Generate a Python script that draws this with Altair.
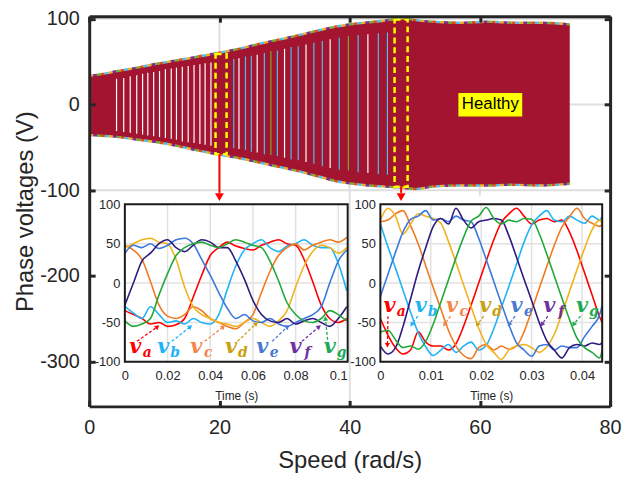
import altair as alt
import pandas as pd

W, H = 526, 394
FONT = "Liberation Sans"
TXT = "#262626"

# ---------------- main plot data (speed in rad/s, volts) ----------------
env_speed = [0, 2, 4, 7, 10, 13, 16, 20, 23, 26, 29, 32, 35, 38, 40.5, 43, 45, 47, 48.5, 50, 53, 57, 61, 65, 69, 72, 73.8]
env_top = [32, 34, 37, 41, 45.5, 49.5, 53.5, 59, 63.5, 69, 74, 79, 84.5, 89.5, 92.5, 94.5, 96, 98, 99, 97, 95, 94, 95, 94, 94, 93, 92]
env_bot = [-34, -35, -36, -39, -42, -46, -51, -57, -61, -66, -71, -76, -82, -88, -91, -93, -94, -95, -96, -97, -94, -93, -93, -92, -93, -92, -91]

stripe_speed = [4.2, 5.3, 6.3, 7.3, 8.2, 9.0, 9.9, 10.8, 11.7, 12.6, 13.4, 14.3, 15.2, 16.1, 17.0, 17.8, 18.7,
                22.2, 23.0, 24.0, 24.9, 25.8, 26.9, 27.9, 28.9, 30.0, 31.0, 32.1, 33.3, 34.5, 35.8, 37.0, 38.4,
                39.8, 41.3, 42.8, 44.4, 45.8]
stripe_lo = [-31, -32, -33, -34, -35, -36, -37, -38, -39, -40, -41, -43, -44, -45, -46, -47, -48,
             -51, -52, -53, -55, -56, -58, -59, -60, -62, -64, -65, -67, -69, -72, -74, -76, -77, -79, -80, -81, -82]
stripe_hi = [30, 31, 33, 34, 36, 37, 38, 39, 41, 42, 43, 44, 45, 46, 47, 48, 49,
             53, 54, 56, 57, 58, 60, 62, 63, 65, 67, 68, 70, 72, 74, 76, 78, 80, 81, 82, 83, 84]
stripe_kind = ["w"] * 17 + ["b", "w", "b", "b", "w", "b", "g", "b", "w", "b", "b", "w", "b", "b", "w", "b", "g",
                            "b", "w", "b", "b"]

box_s1 = [19.4, 46.9]
box_s2 = [21.1, 48.9]
box_v1 = [-58, -96]
box_v2 = [59, 99]

arrow_speed = [20.0, 47.9]
arrow_from = [-58, -96]
arrow_to = [-103, -103]
arrow_head = [-108, -108]

grid_x = [20, 40, 60]
grid_y = [100, 0, -100]

# ---------------- inset 1 (low speed) ----------------
t1 = [0.0, 0.004, 0.008, 0.012, 0.016, 0.020, 0.024, 0.028, 0.032, 0.036, 0.040, 0.044, 0.048, 0.052,
      0.056, 0.060, 0.064, 0.068, 0.072, 0.076, 0.080, 0.084, 0.088, 0.092, 0.096, 0.100, 0.104]
a1 = [-35, -40, -45, -52, -50, -55, -53, -45, -18, 10, 35, 45, 52, 47, 44, 42, 48, 52, 55, 50, 48, 30, 2, -28, -45, -50, -45]
b1 = [-30, -38, -45, -30, -40, -50, -48, -52, -45, -50, -52, -40, -8, 22, 42, 50, 55, 45, 40, 47, 50, 55, 48, 45, 45, 25, -10]
c1 = [48, 42, 30, 2, -28, -42, -45, -40, -30, -35, -45, -50, -55, -58, -50, -40, -12, 15, 35, 45, 50, 42, 48, 52, 55, 52, 58]
d1 = [45, 50, 55, 57, 52, 50, 30, -5, -30, -40, -45, -50, -52, -55, -50, -45, -50, -55, -48, -35, -5, 22, 40, 48, 45, 38, 45]
e1 = [38, 48, 45, 50, 44, 48, 55, 57, 50, 30, 10, -12, -32, -45, -40, -48, -50, -45, -52, -55, -50, -45, -40, -30, 0, 28, 42]
f1 = [-28, 0, 28, 38, 50, 55, 45, 40, 48, 55, 52, 45, 45, 28, 5, -22, -40, -48, -50, -45, -52, -48, -45, -50, -55, -45, -30]
g1 = [-48, -55, -52, -45, -15, 12, 35, 45, 50, 52, 48, 45, 50, 55, 52, 48, 45, 28, 3, -25, -40, -48, -50, -45, -35, -40, -48]

lab1_t = [0.0049, 0.0180, 0.0335, 0.0497, 0.0644, 0.0800, 0.0960]
lab1_v = [-81, -81, -81, -81, -81, -81, -81]
arr1_ts = [0.0057, 0.0220, 0.0374, 0.0528, 0.0690, 0.0830, 0.0950]
arr1_vs = [-74, -74, -74, -74, -74, -74, -72]
arr1_te = [0.0150, 0.0304, 0.0459, 0.0613, 0.0760, 0.0907, 0.0940]
arr1_ve = [-56, -56, -56, -52, -56, -56, -46]
arr1_ang = [51, 51, 51, 51, 51, 51, 354]

# ---------------- inset 2 (higher speed) ----------------
t2 = [0.0, 0.0015, 0.003, 0.0045, 0.006, 0.0075, 0.009, 0.0105, 0.012, 0.0135, 0.015, 0.0165, 0.018, 0.0195,
      0.021, 0.0225, 0.024, 0.0255, 0.027, 0.0285, 0.030, 0.0315, 0.033, 0.0345, 0.036, 0.0375, 0.039, 0.0405,
      0.042, 0.0435, 0.044]
a2 = [-45, -66, -82, -90, -85, -62, -75, -80, -80, -85, -77, -55, -28, 0, 28, 55, 77, 88, 95, 85, 75, 80, 82, 78, 80, 65, 41, 13, -15, -43, -50]
b2 = [75, 46, 19, -9, -37, -63, -81, -92, -85, -78, -88, -80, -75, -85, -79, -58, -31, -4, 24, 52, 74, 85, 92, 80, 78, 85, 80, 76, 85, 80, 85]
c2 = [78, 80, 88, 92, 73, 50, 22, -6, -33, -60, -80, -92, -96, -82, -78, -85, -80, -84, -80, -62, -35, -7, 21, 48, 71, 84, 95, 82, 76, 72, 75]
d2 = [80, 95, 85, 62, 75, 88, 85, 82, 76, 53, 26, -2, -30, -57, -78, -88, -97, -85, -80, -78, -82, -88, -81, -65, -39, -11, 17, 44, 68, 80, 75]
e2 = [-17, 11, 39, 65, 81, 85, 92, 80, 82, 78, 85, 80, 78, 57, 30, 2, -26, -53, -76, -85, -93, -80, -78, -85, -80, -82, -82, -68, -55, -40, -28]
f2 = [-80, -90, -82, -55, -20, 15, 45, 72, 82, 75, 95, 80, 70, 78, 80, 82, 80, 60, 33, 5, -22, -50, -73, -85, -95, -82, -78, -80, -76, -78, -75]
g2 = [-62, -60, -72, -82, -80, -84, -74, -52, -24, 4, 32, 58, 79, 85, 96, 82, 75, 80, 78, 82, 81, 63, 37, 9, -19, -46, -70, -82, -88, -95, -85]

lab2_t = [0.0018, 0.0080, 0.0142, 0.0208, 0.0270, 0.0335, 0.0400]
lab2_v = [-29, -29, -29, -29, -29, -29, -29]
arr2_ts = [0.0015, 0.0074, 0.0139, 0.0205, 0.0267, 0.0332, 0.0397]
arr2_vs = [-42, -42, -42, -42, -42, -42, -42]
arr2_te = [0.0014, 0.0063, 0.0128, 0.0193, 0.0256, 0.0321, 0.0384]
arr2_ve = [-78, -52, -52, -52, -52, -52, -52]
arr2_ang = [180, 215, 215, 215, 215, 215, 215]

phases = ["a", "b", "c", "d", "e", "f", "g"]
LINE_COL = {"a": "#FF0000", "b": "#1EB4F5", "c": "#F07A22", "d": "#F2B21C",
            "e": "#3C78DC", "f": "#2E1A7E", "g": "#22A83A"}
LAB_COL = {"a": "#FF0000", "b": "#1EB4F5", "c": "#F4864A", "d": "#C8A010",
           "e": "#4A7AD0", "f": "#7030A0", "g": "#1DAA55"}
STRIPE_COL = {"w": "#FFFFFF", "b": "#4DBEEE", "g": "#77AC30"}

# ---------------- scales ----------------
XD = [0, 80]
YD = [-352, 103]
I1X = [0, 0.1044]
I2X = [0, 0.044]
IY = [-100, 100]
IN_TOP, IN_BOT = 190, 349  # inset frame rows in plot pixels


def sx():
    return alt.Scale(domain=XD, nice=False, zero=False)


def sy():
    return alt.Scale(domain=YD, nice=False, zero=False)


def s1x():
    return alt.Scale(domain=I1X, range=[36, 261], nice=False, zero=False)


def s2x():
    return alt.Scale(domain=I2X, range=[294, 518], nice=False, zero=False)


def siy():
    return alt.Scale(domain=IY, range=[IN_BOT, IN_TOP], nice=False, zero=False)


LBL = "'' + datum.value"

AX_MAIN_X = alt.Axis(orient="bottom", values=[0, 20, 40, 60, 80], grid=False, domain=False, ticks=False,
                     labelExpr=LBL, labelFont=FONT, labelFontSize=20, labelColor=TXT, labelPadding=11,
                     labelFlush=False, labelOverlap=False, title="Speed (rad/s)", titleFont=FONT,
                     titleFontSize=24, titleFontWeight="normal", titleColor=TXT, titlePadding=12)
AX_MAIN_Y = alt.Axis(orient="left", values=[100, 0, -100, -200, -300], grid=False, domain=False, ticks=False,
                     labelExpr=LBL, labelFont=FONT, labelFontSize=20, labelColor=TXT, labelPadding=10,
                     labelOverlap=False, title="Phase voltages (V)", titleFont=FONT, titleFontSize=24,
                     titleFontWeight="normal", titleColor=TXT, titlePadding=2)


def tick_axis(orient, offset, values):
    return alt.Axis(orient=orient, offset=offset, values=values, labels=False, grid=False, domain=True,
                    domainColor=TXT, domainWidth=3, ticks=True, tickColor=TXT, tickSize=6, tickWidth=3,
                    title=None, zindex=1)


def inset_x_axis(values):
    return alt.Axis(orient="bottom", offset=IN_BOT - H, values=values, labelExpr=LBL, grid=False, domain=False,
                    ticks=False, labelFont=FONT, labelFontSize=13, labelColor=TXT, labelPadding=8,
                    labelFlush=False, labelOverlap=False, title="Time (s)", titleFont=FONT, titleFontSize=12,
                    titleFontWeight="normal", titleColor=TXT, titlePadding=8, zindex=1)


def inset_y_axis(offset):
    return alt.Axis(orient="left", offset=offset, values=[-100, -50, 0, 50, 100], labelExpr=LBL, grid=False,
                    domain=False, ticks=False, labelFont=FONT, labelFontSize=13, labelColor=TXT, labelPadding=5,
                    labelOverlap=False, title=None, zindex=1)


layers = []

# main grid lines (carry the main labelled axes)
df_gx = pd.DataFrame({"s": grid_x, "lo": [YD[0]] * 3, "hi": [YD[1]] * 3})
layers.append(alt.Chart(df_gx).mark_rule(color="#DEDEDE", strokeWidth=2).encode(
    x=alt.X("s:Q", scale=sx(), axis=AX_MAIN_X),
    y=alt.Y("lo:Q", scale=sy(), axis=AX_MAIN_Y), y2="hi:Q"))
df_gy = pd.DataFrame({"v": grid_y, "lo": [XD[0]] * 3, "hi": [XD[1]] * 3})
layers.append(alt.Chart(df_gy).mark_rule(color="#DEDEDE", strokeWidth=2).encode(
    y=alt.Y("v:Q", scale=sy(), axis=None),
    x=alt.X("lo:Q", scale=sx(), axis=None), x2="hi:Q"))

# coloured fringes of the other phases along the envelope
edge_rows = []
for s, tp, bt in zip(env_speed, env_top, env_bot):
    edge_rows.append({"s": s, "v": tp, "edge": "top"})
    edge_rows.append({"s": s, "v": bt, "edge": "bot"})
df_edge = pd.DataFrame(edge_rows)
for col, off in [("#EDB120", 0), ("#4DBEEE", 4), ("#D95319", 8), ("#77AC30", 12), ("#7E2F8E", 16)]:
    layers.append(alt.Chart(df_edge).mark_line(color=col, strokeWidth=5, strokeDash=[4, 16],
                                               strokeDashOffset=off, interpolate="monotone").encode(
        x=alt.X("s:Q", scale=sx(), axis=None), y=alt.Y("v:Q", scale=sy(), axis=None), detail="edge:N"))

# dense waveform envelope (last-drawn phase colour)
df_env = pd.DataFrame({"s": env_speed, "top": env_top, "bot": env_bot})
layers.append(alt.Chart(df_env).mark_area(color="#A2142F", interpolate="monotone").encode(
    x=alt.X("s:Q", scale=sx(), axis=None), y=alt.Y("top:Q", scale=sy(), axis=None), y2="bot:Q"))

# individual strokes visible at low frequency
df_str = pd.DataFrame({"s": stripe_speed, "lo": stripe_lo, "hi": stripe_hi,
                       "c": [STRIPE_COL[k] for k in stripe_kind]})
layers.append(alt.Chart(df_str).mark_rule(strokeWidth=1.2).encode(
    x=alt.X("s:Q", scale=sx(), axis=None), y=alt.Y("lo:Q", scale=sy(), axis=None), y2="hi:Q",
    color=alt.Color("c:N", scale=None)))

# yellow dashed zoom boxes
df_box = pd.DataFrame({"s1": box_s1, "s2": box_s2, "v1": box_v1, "v2": box_v2})
layers.append(alt.Chart(df_box).mark_rect(filled=False, stroke="#FFFF00", strokeWidth=2.5,
                                          strokeDash=[6, 4]).encode(
    x=alt.X("s1:Q", scale=sx(), axis=None), x2="s2:Q",
    y=alt.Y("v1:Q", scale=sy(), axis=None), y2="v2:Q"))

# "Healthy" label
df_h = pd.DataFrame({"s1": [56.7], "s2": [66.5], "v1": [-14], "v2": [13.4], "s": [61.6], "v": [0],
                     "txt": ["Healthy"]})
layers.append(alt.Chart(df_h).mark_rect(color="#FFFF00").encode(
    x=alt.X("s1:Q", scale=sx(), axis=None), x2="s2:Q",
    y=alt.Y("v1:Q", scale=sy(), axis=None), y2="v2:Q"))
layers.append(alt.Chart(df_h).mark_text(font=FONT, fontSize=17, color="#000000", align="center",
                                        baseline="middle").encode(
    x=alt.X("s:Q", scale=sx(), axis=None), y=alt.Y("v:Q", scale=sy(), axis=None), text="txt:N"))

# white panels for the insets (carry inward ticks of bottom/left frame)
df_pan = pd.DataFrame({"s1": [0.5, 40.45], "s2": [39.85, 79.6], "v1": [-349.5, -349.5], "v2": [-106, -106]})
layers.append(alt.Chart(df_pan).mark_rect(color="#FFFFFF").encode(
    x=alt.X("s1:Q", scale=sx(), axis=tick_axis("top", -H, [0, 20, 40, 60, 80])), x2="s2:Q",
    y=alt.Y("v1:Q", scale=sy(), axis=tick_axis("right", -W, [100, 0, -100, -200, -300])), y2="v2:Q"))

# red arrows (carry inward ticks of top/right frame)
df_arr = pd.DataFrame({"s": arrow_speed, "v1": arrow_from, "v2": arrow_to, "vh": arrow_head})
layers.append(alt.Chart(df_arr).mark_rule(color="#FF0000", strokeWidth=2).encode(
    x=alt.X("s:Q", scale=sx(), axis=tick_axis("bottom", -H, [0, 20, 40, 60, 80])),
    y=alt.Y("v1:Q", scale=sy(), axis=tick_axis("left", -W, [100, 0, -100, -200, -300])), y2="v2:Q"))
layers.append(alt.Chart(df_arr).mark_point(shape="triangle-down", filled=True, size=80, color="#FF0000",
                                           opacity=1).encode(
    x=alt.X("s:Q", scale=sx(), axis=None), y=alt.Y("vh:Q", scale=sy(), axis=None)))


def inset_layers(tt, series, xscale, xdom, xticks, yoff, lab_t, lab_v, ats, avs, ate, ave, aang):
    out = []
    gx = pd.DataFrame({"t": xticks[1:], "lo": [-100] * (len(xticks) - 1), "hi": [100] * (len(xticks) - 1)})
    out.append(alt.Chart(gx).mark_rule(color="#E2E2E2", strokeWidth=1.5).encode(
        x=alt.X("t:Q", scale=xscale(), axis=None), y=alt.Y("lo:Q", scale=siy(), axis=None), y2="hi:Q"))
    gy = pd.DataFrame({"v": [-50, 0, 50], "lo": [xdom[0]] * 3, "hi": [xdom[1]] * 3})
    out.append(alt.Chart(gy).mark_rule(color="#E2E2E2", strokeWidth=1.5).encode(
        y=alt.Y("v:Q", scale=siy(), axis=None), x=alt.X("lo:Q", scale=xscale(), axis=None), x2="hi:Q"))
    rows = []
    for ph, vals in zip(phases, series):
        for t, v in zip(tt, vals):
            rows.append({"t": t, "v": v, "ph": ph, "c": LINE_COL[ph]})
    out.append(alt.Chart(pd.DataFrame(rows)).mark_line(strokeWidth=1.6, interpolate="monotone").encode(
        x=alt.X("t:Q", scale=xscale(), axis=None), y=alt.Y("v:Q", scale=siy(), axis=None),
        color=alt.Color("c:N", scale=None), detail="ph:N"))
    bx = pd.DataFrame({"x1": [xdom[0]], "x2": [xdom[1]], "y1": [-100], "y2": [100]})
    out.append(alt.Chart(bx).mark_rect(filled=False, stroke="#1A1A1A", strokeWidth=2).encode(
        x=alt.X("x1:Q", scale=xscale(), axis=inset_x_axis(xticks)), x2="x2:Q",
        y=alt.Y("y1:Q", scale=siy(), axis=inset_y_axis(yoff)), y2="y2:Q"))
    lab = pd.DataFrame({"t": lab_t, "v": lab_v, "sub": phases, "c": [LAB_COL[p] for p in phases],
                        "ts": ats, "vs": avs, "te": ate, "ve": ave, "ang": aang})
    out.append(alt.Chart(lab).mark_rule(strokeWidth=1.3, strokeDash=[3, 2]).encode(
        x=alt.X("ts:Q", scale=xscale(), axis=None), x2="te:Q",
        y=alt.Y("vs:Q", scale=siy(), axis=None), y2="ve:Q", color=alt.Color("c:N", scale=None)))
    out.append(alt.Chart(lab).mark_point(shape="triangle", filled=True, size=28, opacity=1).encode(
        x=alt.X("te:Q", scale=xscale(), axis=None), y=alt.Y("ve:Q", scale=siy(), axis=None),
        angle=alt.Angle("ang:Q", scale=None), color=alt.Color("c:N", scale=None)))
    out.append(alt.Chart(lab).mark_text(text="v", font="DejaVu Serif", fontStyle="italic", fontWeight="bold",
                                        fontSize=21, align="center", baseline="middle").encode(
        x=alt.X("t:Q", scale=xscale(), axis=None), y=alt.Y("v:Q", scale=siy(), axis=None),
        color=alt.Color("c:N", scale=None)))
    out.append(alt.Chart(lab).mark_text(font="DejaVu Serif", fontStyle="italic", fontWeight="bold",
                                        fontSize=14, align="center", baseline="middle", dx=12, dy=6).encode(
        x=alt.X("t:Q", scale=xscale(), axis=None), y=alt.Y("v:Q", scale=siy(), axis=None),
        text="sub:N", color=alt.Color("c:N", scale=None)))
    return out


layers += inset_layers(t1, [a1, b1, c1, d1, e1, f1, g1], s1x, I1X, [0, 0.02, 0.04, 0.06, 0.08, 0.1], -36,
                       lab1_t, lab1_v, arr1_ts, arr1_vs, arr1_te, arr1_ve, arr1_ang)
layers += inset_layers(t2, [a2, b2, c2, d2, e2, f2, g2], s2x, I2X, [0, 0.01, 0.02, 0.03, 0.04], -294,
                       lab2_t, lab2_v, arr2_ts, arr2_vs, arr2_te, arr2_ve, arr2_ang)

chart = alt.layer(*layers).resolve_scale(x="independent", y="independent").properties(
    width=W, height=H, autosize=alt.AutoSizeParams(type="none"),
    padding={"left": 82, "top": 6, "right": 12, "bottom": 65},
).configure_view(strokeWidth=0)

chart.save("out.html", embed_options={"renderer": "svg", "actions": False})
